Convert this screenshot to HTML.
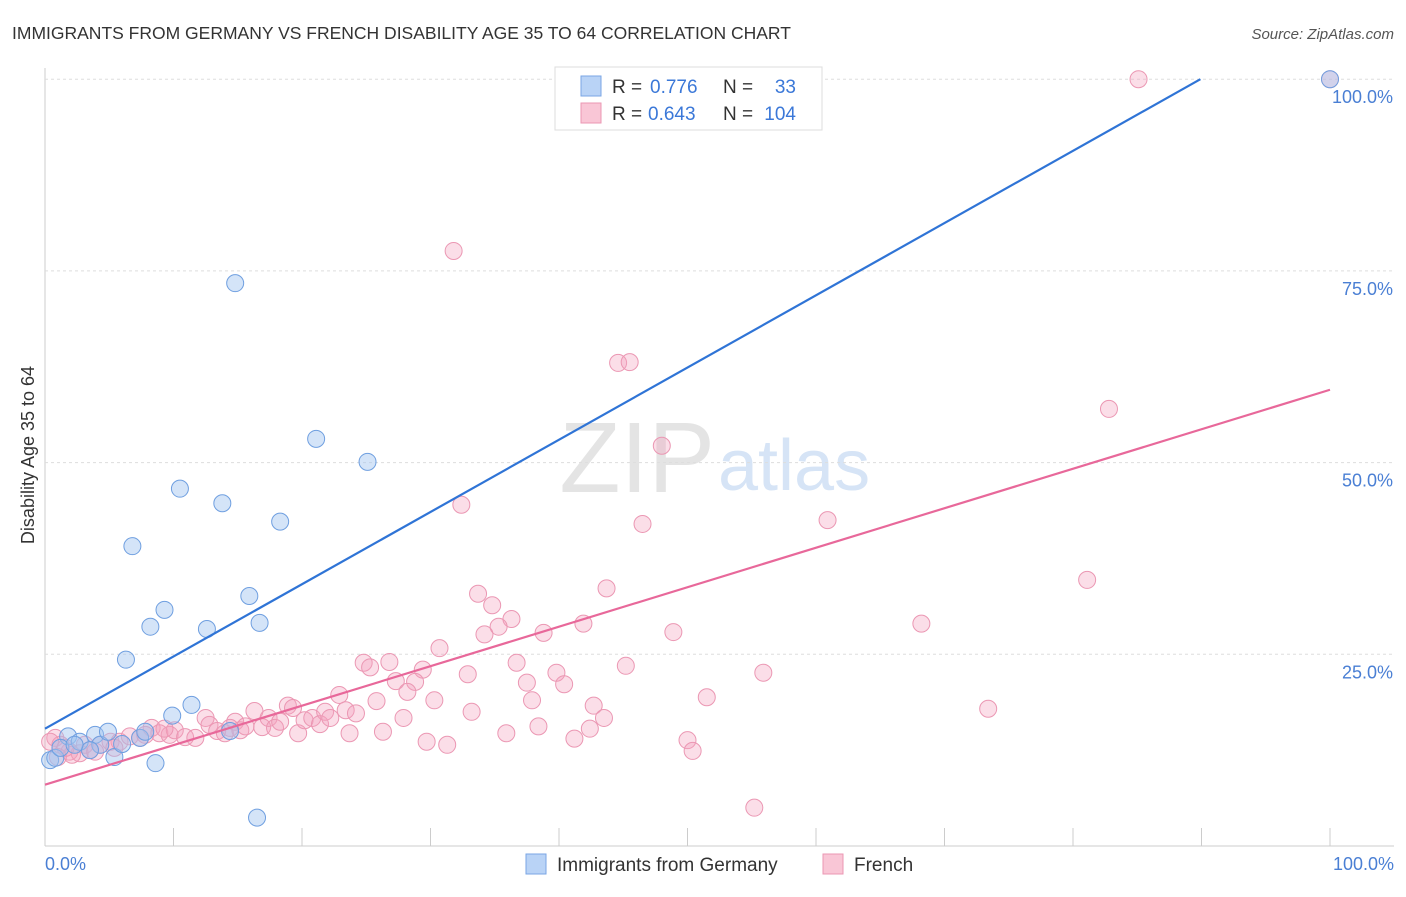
<!DOCTYPE html>
<html><head><meta charset="utf-8"><style>
body{margin:0;background:#fff;font-family:"Liberation Sans",sans-serif;}
svg text{font-family:"Liberation Sans",sans-serif;}
</style></head><body>
<svg id="c" width="1406" height="892">
<text x="12" y="39" font-size="17.5" fill="#333">IMMIGRANTS FROM GERMANY VS FRENCH DISABILITY AGE 35 TO 64 CORRELATION CHART</text>
<text x="1394" y="39" font-size="15" fill="#555" font-style="italic" text-anchor="end">Source: ZipAtlas.com</text>
<text x="715" y="492" font-size="100" fill="#e4e4e4" text-anchor="end" font-family="Liberation Serif">ZIP</text>
<text x="718" y="490" font-size="72" fill="#d6e4f6">atlas</text>
<g id="grid"></g><g id="pts"></g><g id="lines"></g>
<text transform="translate(34,455) rotate(-90)" font-size="18" fill="#333" text-anchor="middle">Disability Age 35 to 64</text>
<text x="45" y="870" font-size="18" fill="#4a7fd4">0.0%</text>
<text x="1394" y="870" font-size="18" fill="#4a7fd4" text-anchor="end">100.0%</text>
<g>
<rect x="555" y="67" width="267" height="63" fill="#fff" stroke="#ddd"/>
<rect x="581" y="76" width="20" height="20" fill="#b9d3f6" stroke="#7aa6e4"/>
<rect x="581" y="103" width="20" height="20" fill="#f9c6d6" stroke="#eb97b3"/>
<text x="612" y="93" font-size="19" fill="#333">R =</text>
<text x="650" y="93" font-size="19" fill="#3b78d8">0.776</text>
<text x="723" y="93" font-size="19" fill="#333">N =</text>
<text x="796" y="93" font-size="19" fill="#3b78d8" text-anchor="end">33</text>
<text x="612" y="120" font-size="19" fill="#333">R =</text>
<text x="648" y="120" font-size="19" fill="#3b78d8">0.643</text>
<text x="723" y="120" font-size="19" fill="#333">N =</text>
<text x="796" y="120" font-size="19" fill="#3b78d8" text-anchor="end">104</text>
</g>
<g>
<rect x="526" y="854" width="20" height="20" fill="#b9d3f6" stroke="#7aa6e4"/>
<text x="557" y="871" font-size="19" fill="#333">Immigrants from Germany</text>
<rect x="823" y="854" width="20" height="20" fill="#f9c6d6" stroke="#eb97b3"/>
<text x="854" y="871" font-size="19" fill="#333">French</text>
</g>
</svg>
<script>
const blueX=[0.4,0.8,1.8,1.2,2.7,3.9,4.3,4.9,5.4,6.0,7.4,7.8,8.6,9.9,11.4,6.3,8.2,9.3,6.8,10.5,12.6,13.8,14.8,15.9,16.7,18.3,21.1,25.1,16.5,100,14.4,3.5,2.3];
const blueY=[11.2,11.5,14.3,12.8,13.6,14.5,13.2,14.9,11.6,13.3,14.1,14.9,10.8,17.0,18.4,24.3,28.6,30.8,39.1,46.6,28.3,44.7,73.4,32.6,29.1,42.3,53.1,50.1,3.7,100,15.0,12.5,13.2];
const pinkX=[85.1,31.8,44.6,45.5,48.0,82.8,32.4,46.5,60.9,81.1,43.7,33.7,34.8,36.3,35.3,34.2,38.8,41.9,48.9,68.2,30.7,24.8,26.8,25.3,36.7,29.4,27.3,32.9,39.8,45.2,55.9,37.5,40.4,28.8,28.2,22.9,25.8,30.3,37.9,51.5,42.7,73.4,23.4,24.2,33.2,43.5,27.9,38.4,42.4,35.9,23.7,26.3,29.7,31.3,41.2,50.0,50.4,55.2,
0.8,1.2,1.9,2.7,3.5,4.3,5.1,5.8,6.6,7.4,8.3,8.9,9.7,10.1,10.9,11.7,12.5,12.8,13.4,14.0,14.8,15.2,16.3,16.9,17.4,17.9,18.3,18.9,19.3,19.7,20.2,20.8,21.4,21.8,22.2,2.1,3.1,5.4,7.8,9.3,0.4,1.6,15.6,14.4,100,1.0,3.9];
const pinkY=[100,77.6,63.0,63.1,52.2,57.0,44.5,42.0,42.5,34.7,33.6,32.9,31.4,29.6,28.6,27.6,27.8,29.0,27.9,29.0,25.8,23.9,24.0,23.3,23.9,23.0,21.5,22.4,22.6,23.5,22.6,21.3,21.1,21.4,20.1,19.7,18.9,19.0,19.0,19.4,18.3,17.9,17.7,17.3,17.5,16.7,16.7,15.6,15.3,14.7,14.7,14.9,13.6,13.2,14.0,13.8,12.4,5.0,
14.1,13.2,12.3,12.1,12.5,13.2,13.6,13.6,14.3,14.1,15.4,14.7,14.5,15.1,14.2,14.1,16.7,15.8,15.0,14.7,16.2,15.1,17.6,15.5,16.7,15.4,16.2,18.3,18.0,14.7,16.4,16.7,15.9,17.5,16.7,11.9,13.2,12.8,14.5,15.3,13.6,12.8,15.6,15.4,100,11.6,12.3];
const yTicks=[25,50,75,100];
const yTickLabels=["25.0%","50.0%","75.0%","100.0%"];
const blueFit=[15.3,0.942];
const pinkFit=[8.0,0.515];
const NS="http://www.w3.org/2000/svg";
const sx=v=>45+v*12.85, sy=v=>846-v*7.668;
function mk(t,a,p){const e=document.createElementNS(NS,t);for(const k in a)e.setAttribute(k,a[k]);p.appendChild(e);return e;}
const grid=document.getElementById('grid');
const ax=mk('line',{x1:45,y1:68,x2:45,y2:846,stroke:'#ccc'},grid);


const bx=mk('line',{x1:45,y1:846,x2:1394,y2:846,stroke:'#ccc'},grid);


for(let i=0;i<=10;i++){const t=mk('line',{x1:sx(i*10),y1:828,x2:sx(i*10),y2:846,stroke:'#ccc'},grid);

}
yTicks.forEach((v,i)=>{const g=mk('line',{x1:45,y1:sy(v),x2:1394,y2:sy(v),stroke:'#ddd','stroke-dasharray':'3,3'},grid);


const t=mk('text',{x:1393,y:sy(v)+24,'font-size':18,fill:'#4a7fd4','text-anchor':'end'},grid);t.textContent=yTickLabels[i];

});
const pts=document.getElementById('pts');
pinkX.forEach((x,i)=>{const c=mk('circle',{cx:sx(x),cy:sy(pinkY[i]),r:8.5,fill:'rgba(244,160,190,0.35)',stroke:'#eb97b3','stroke-width':1},pts);

});
blueX.forEach((x,i)=>{const c=mk('circle',{cx:sx(x),cy:sy(blueY[i]),r:8.5,fill:'rgba(160,196,240,0.45)',stroke:'#6f9fe0','stroke-width':1},pts);

});
const lines=document.getElementById('lines');
const xe=(100-blueFit[0])/blueFit[1];
const l1=mk('line',{x1:sx(0),y1:sy(blueFit[0]),x2:sx(xe),y2:sy(100),stroke:'#2f74d6','stroke-width':2.2},lines);


const l2=mk('line',{x1:sx(0),y1:sy(pinkFit[0]),x2:sx(100),y2:sy(pinkFit[0]+100*pinkFit[1]),stroke:'#e8689a','stroke-width':2.2},lines);


</script>
</body></html>
